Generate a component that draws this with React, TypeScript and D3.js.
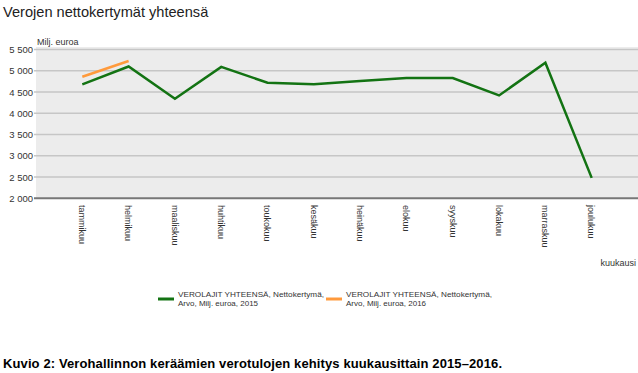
import * as d3 from "d3";

const months = [
  "tammikuu", "helmikuu", "maaliskuu", "huhtikuu", "toukokuu", "kesäkuu",
  "heinäkuu", "elokuu", "syyskuu", "lokakuu", "marraskuu", "joulukuu",
];
const values2015 = [4680, 5100, 4340, 5090, 4720, 4680, 4760, 4830, 4830, 4420, 5190, 2480];
const values2016 = [4860, 5230];
const yTicks = [2000, 2500, 3000, 3500, 4000, 4500, 5000, 5500];
const legendItems = [
  { label: "VEROLAJIT YHTEENSÄ, Nettokertymä,", sub: "Arvo, Milj. euroa, 2015", color: "#137313" },
  { label: "VEROLAJIT YHTEENSÄ, Nettokertymä,", sub: "Arvo, Milj. euroa, 2016", color: "#ff9a3c" },
];

const W = 638;
const H = 373;
const plotLeft = 36;
const plotRight = 638;
const plotTop = 47;
const FONT = "'Liberation Sans', Arial, sans-serif";

const fmt = (v: number) => d3.format(",")(v).replace(",", " ");

export default function App() {
  const x = d3.scalePoint<string>().domain(months).range([plotLeft, plotRight]).padding(1);
  const y = d3.scaleLinear().domain([2000, 5500]).range([198.3, 49.5]);

  const line = d3
    .line<number>()
    .x((_, i) => x(months[i]) as number)
    .y((d) => y(d));

  return (
    <svg
      width={W}
      height={H}
      style={{ position: "absolute", left: 0, top: 0, background: "#fff" }}
      fontFamily={FONT}
    >
      <text x={3} y={17} fontSize={14.6} fill="#222">
        Verojen nettokertymät yhteensä
      </text>

      <rect x={plotLeft} y={plotTop} width={plotRight - plotLeft} height={y(2000) - plotTop} fill="#ececec" />

      {yTicks.map((t) => (
        <g key={t}>
          {t > 2000 && (
            <line x1={plotLeft - 2} x2={plotRight} y1={y(t)} y2={y(t)} stroke="#c6c6c6" strokeWidth={1.5} />
          )}
          <text x={33} y={y(t) + 3.5} fontSize={9.5} textAnchor="end" fill="#333">
            {fmt(t)}
          </text>
        </g>
      ))}
      <line x1={plotLeft - 2} x2={plotRight} y1={y(2000)} y2={y(2000)} stroke="#777" strokeWidth={2} />

      <text x={37} y={45} fontSize={9} fill="#333">
        Milj. euroa
      </text>

      {months.map((m) => (
        <text
          key={m}
          transform={`translate(${(x(m) as number) - 3.2},205) rotate(90)`}
          fontSize={9}
          fill="#333"
        >
          {m}
        </text>
      ))}
      <text x={636} y={266} fontSize={9} textAnchor="end" fill="#333">
        kuukausi
      </text>

      <path d={line(values2015) ?? ""} fill="none" stroke="#137313" strokeWidth={2.5} strokeLinejoin="miter" />
      <path d={line(values2016) ?? ""} fill="none" stroke="#ff9a3c" strokeWidth={2.5} />

      <g fontSize={8} fill="#333">
        {legendItems.map((it, i) => {
          const lx = 158 + i * 168;
          return (
            <g key={i}>
              <line x1={lx} x2={lx + 16} y1={299} y2={299} stroke={it.color} strokeWidth={3} />
              <text x={lx + 20} y={297} textLength={146} lengthAdjust="spacingAndGlyphs">
                {it.label}
              </text>
              <text x={lx + 20} y={306}>{it.sub}</text>
            </g>
          );
        })}
      </g>

      <text
        x={3}
        y={368}
        fontSize={13}
        fontWeight="bold"
        fontFamily="'Liberation Sans Narrow', 'Arial Narrow', 'Liberation Sans', sans-serif"
        fill="#000"
        textLength={499}
        lengthAdjust="spacing"
      >
        Kuvio 2: Verohallinnon keräämien verotulojen kehitys kuukausittain 2015–2016.
      </text>
    </svg>
  );
}
